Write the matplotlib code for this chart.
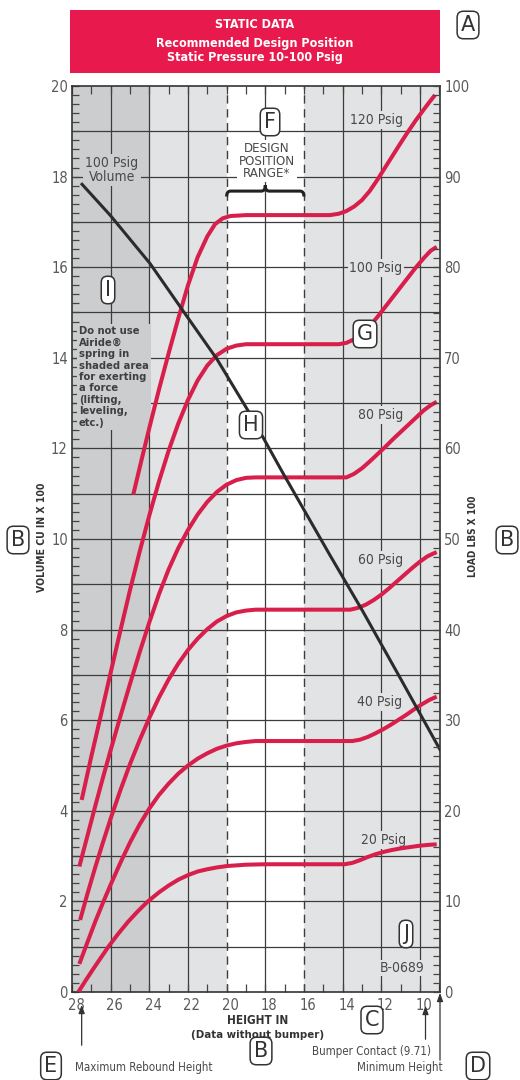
import matplotlib
matplotlib.use('Agg')
import matplotlib.pyplot as plt
from matplotlib.ticker import MultipleLocator, FixedLocator
from matplotlib.patches import Rectangle, PathPatch
from matplotlib.path import Path
from matplotlib.transforms import ScaledTranslation

# ---------------- data (height in, volume cu in x100 ; load lbs x100 = 5 x left scale) ----------------
x_120 = [24.83, 24.4, 24.0, 23.5, 23.0, 22.5, 22.0, 21.5, 21.0, 20.6, 20.2, 19.8, 19.0, 17.0, 15.0,
         14.65, 14.2, 13.8, 13.4, 13.0, 12.6, 12.2, 11.8, 11.4, 11.0, 10.6, 10.2, 9.8, 9.5, 9.22]
y_120 = [10.98, 11.75, 12.45, 13.3, 14.1, 14.87, 15.6, 16.22, 16.68, 16.95, 17.08, 17.13, 17.15, 17.15, 17.15,
         17.15, 17.18, 17.24, 17.34, 17.48, 17.68, 17.93, 18.2, 18.47, 18.74, 19.0, 19.25, 19.48, 19.65, 19.8]

x_100 = [27.5, 27.0, 26.5, 26.0, 25.5, 25.0, 24.5, 24.0, 23.5, 23.0, 22.5, 22.0, 21.5, 21.0, 20.5, 20.0,
         19.5, 19.0, 17.0, 15.0, 14.2, 13.8, 13.4, 13.0, 12.6, 12.2, 11.8, 11.4, 11.0, 10.6, 10.2, 9.8,
         9.45, 9.13]
y_100 = [4.24, 5.2, 6.12, 7.05, 7.97, 8.87, 9.72, 10.52, 11.27, 11.95, 12.55, 13.07, 13.5, 13.83, 14.06, 14.2,
         14.27, 14.3, 14.3, 14.3, 14.3, 14.33, 14.41, 14.53, 14.7, 14.9, 15.12, 15.34, 15.56, 15.78, 16.0, 16.2,
         16.36, 16.45]

x_80 = [27.62, 27.2, 26.8, 26.4, 26.0, 25.5, 25.0, 24.5, 24.0, 23.5, 23.0, 22.5, 22.0, 21.5, 21.0, 20.5,
        20.0, 19.5, 19.0, 18.5, 16.0, 13.8, 13.4, 13.0, 12.6, 12.2, 11.8, 11.4, 11.0, 10.6, 10.2, 9.8,
        9.45, 9.13]
y_80 = [2.77, 3.45, 4.1, 4.73, 5.34, 6.08, 6.8, 7.5, 8.16, 8.78, 9.33, 9.8, 10.2, 10.54, 10.82, 11.04,
        11.2, 11.3, 11.35, 11.36, 11.36, 11.36, 11.44, 11.56, 11.71, 11.87, 12.03, 12.2, 12.36, 12.52, 12.68, 12.84,
        12.95, 13.03]

x_60 = [27.58, 27.2, 26.8, 26.4, 26.0, 25.5, 25.0, 24.5, 24.0, 23.5, 23.0, 22.5, 22.0, 21.5, 21.0, 20.5,
        20.0, 19.5, 19.0, 18.5, 16.0, 13.6, 13.2, 12.8, 12.4, 12.0, 11.6, 11.2, 10.8, 10.4, 10.0, 9.6,
        9.3, 9.13]
y_60 = [1.59, 2.17, 2.75, 3.3, 3.83, 4.45, 5.03, 5.56, 6.05, 6.5, 6.9, 7.25, 7.55, 7.8, 8.01, 8.18,
        8.3, 8.38, 8.42, 8.44, 8.44, 8.44, 8.48, 8.55, 8.65, 8.77, 8.91, 9.06, 9.21, 9.36, 9.5, 9.62,
        9.68, 9.71]

x_40 = [27.62, 27.2, 26.8, 26.4, 26.0, 25.5, 25.0, 24.5, 24.0, 23.5, 23.0, 22.5, 22.0, 21.5, 21.0, 20.5,
        20.0, 19.5, 19.0, 18.5, 16.0, 13.5, 13.1, 12.7, 12.3, 11.9, 11.5, 11.1, 10.7, 10.3, 9.9, 9.5, 9.13]
y_40 = [0.62, 1.1, 1.55, 1.97, 2.37, 2.85, 3.3, 3.7, 4.05, 4.35, 4.6, 4.82, 5.0, 5.15, 5.27, 5.37,
        5.44, 5.49, 5.52, 5.54, 5.54, 5.54, 5.57, 5.63, 5.71, 5.8, 5.9, 6.01, 6.12, 6.24, 6.35, 6.45, 6.52]

x_20 = [27.67, 27.3, 26.9, 26.5, 26.1, 25.6, 25.1, 24.6, 24.1, 23.5, 23.0, 22.5, 22.0, 21.5, 21.0, 20.5,
        20.0, 19.0, 18.0, 16.0, 13.9, 13.5, 13.1, 12.7, 12.3, 11.9, 11.5, 11.0, 10.5, 10.0, 9.5, 9.13]
y_20 = [0.0, 0.25, 0.51, 0.76, 1.01, 1.29, 1.55, 1.78, 1.99, 2.2, 2.35, 2.48, 2.58, 2.66, 2.71, 2.75,
        2.78, 2.81, 2.82, 2.82, 2.82, 2.85, 2.91, 2.98, 3.04, 3.09, 3.13, 3.17, 3.2, 3.23, 3.25, 3.26]

vol_x = [27.48, 26.03, 23.96, 22.31, 20.5, 18.79, 17.08, 14.65, 12.95, 11.03, 8.96]
vol_y = [17.83, 17.15, 16.08, 15.07, 13.97, 12.76, 11.45, 9.64, 8.4, 6.94, 5.35]

curves = [("120 Psig", x_120, y_120), ("100 Psig", x_100, y_100), ("80 Psig", x_80, y_80),
          ("60 Psig", x_60, y_60), ("40 Psig", x_40, y_40), ("20 Psig", x_20, y_20)]

height_ticks = [28, 26, 24, 22, 20, 18, 16, 14, 12, 10]
volume_ticks = [0, 2, 4, 6, 8, 10, 12, 14, 16, 18, 20]
load_ticks = [0, 10, 20, 30, 40, 50, 60, 70, 80, 90, 100]
design_range = (20, 16)
shaded_dark = (28, 24)
bumper_contact = 9.71
max_rebound = 27.5
min_height = 8.96

# ---------------- styling ----------------
NARROW = ['DejaVu Sans']
RED = '#d81f4c'
HEAD = '#e8194c'
DARK = '#cbcdcf'
LIGHT = '#e2e3e4'
GRID = '#3c3c3c'
TXT = '#4a4a4a'

W, H = 520, 1080
fig = plt.figure(figsize=(W / 100, H / 100), dpi=100)
fig.patch.set_facecolor('white')


def fx(px):
    return px / W


def fy(py):
    return 1 - py / H


ax = fig.add_axes([fx(72), fy(992), fx(440) - fx(72), fy(86) - fy(992)])
ax.set_xlim(28, min_height)
ax.set_ylim(0, 20)
ax.set_facecolor(LIGHT)
ax.axvspan(shaded_dark[0], shaded_dark[1], color=DARK, lw=0, zorder=0)
ax.axvspan(design_range[0], design_range[1], color='white', lw=0, zorder=0)

for yv in range(1, 20):
    ax.axhline(yv, color=GRID, lw=0.9, zorder=1)
for xv in height_ticks[1:]:
    if xv in design_range:
        ax.axvline(xv, color=GRID, lw=1.0, ls=(0, (6, 4)), zorder=1)
    else:
        ax.axvline(xv, color=GRID, lw=0.9, zorder=1)

for name, xs, ys in curves:
    ax.plot(xs, ys, color=RED, lw=2.9, solid_capstyle='butt', solid_joinstyle='round', zorder=4)
ax.plot(vol_x, vol_y, color='#2b2b2b', lw=2.2, solid_joinstyle='round', zorder=5)

# ticks
for s in ax.spines.values():
    s.set_color('#333333')
    s.set_linewidth(1.2)
ax.xaxis.set_major_locator(FixedLocator(height_ticks))
ax.xaxis.set_minor_locator(MultipleLocator(1))
ax.yaxis.set_major_locator(FixedLocator(volume_ticks))
ax.yaxis.set_minor_locator(MultipleLocator(0.2))
ax.tick_params(axis='both', which='both', direction='in', color='#444444', width=0.9)
ax.tick_params(axis='x', which='both', length=6, top=True, labeltop=False, pad=4)
ax.tick_params(axis='y', which='both', length=5, pad=3)
ax.tick_params(axis='both', which='major', labelsize=10.5, labelcolor='#5a5a5a')
shift = ScaledTranslation(4 / 100, 0, fig.dpi_scale_trans)
for lab in ax.get_xticklabels():
    lab.set_family(NARROW)
    lab.set_fontstretch('condensed')
    lab.set_transform(lab.get_transform() + shift)
for lab in ax.get_yticklabels():
    lab.set_family(NARROW)
    lab.set_fontstretch('condensed')

ax2 = ax.twinx()
ax2.set_ylim(0, 100)
ax2.yaxis.set_major_locator(FixedLocator(load_ticks))
ax2.yaxis.set_minor_locator(MultipleLocator(1))
ax2.tick_params(axis='y', which='both', direction='in', length=5, color='#444444', width=0.9,
                labelsize=10.5, labelcolor='#5a5a5a', pad=3)
for lab in ax2.get_yticklabels():
    lab.set_family(NARROW)
    lab.set_fontstretch('condensed')
for s in ax2.spines.values():
    s.set_visible(False)


# ---------------- texts ----------------
def ptxt(px, py, s, **kw):
    base = dict(ha='center', va='center', color=TXT, fontsize=10, family=NARROW, fontstretch='condensed')
    base.update(kw)
    return fig.text(fx(px), fy(py), s, **base)


def atxt(px, py, s, **kw):
    base = dict(ha='center', va='center', color=TXT, fontsize=10, family=NARROW, fontstretch='condensed',
                transform=fig.transFigure, zorder=3)
    base.update(kw)
    return ax.text(fx(px), fy(py), s, **base)


atxt(112, 170, "100 Psig\nVolume", linespacing=0.95, bbox=dict(fc=DARK, ec='none', pad=1.5))
atxt(267, 161, "DESIGN\nPOSITION\nRANGE*", fontsize=9.5, linespacing=0.95,
     bbox=dict(fc='white', ec='none', pad=1.5), zorder=6)

label_pos = {"120 Psig": (376, 120), "100 Psig": (376, 268), "80 Psig": (381, 415),
             "60 Psig": (381, 560), "40 Psig": (380, 702), "20 Psig": (384, 840)}
for name, xs, ys in curves:
    px, py = label_pos[name]
    atxt(px, py, name, bbox=dict(fc=LIGHT, ec='none', pad=1.2))

atxt(79, 377, "Do not use\nAiride\u00ae\nspring in\nshaded area\nfor exerting\na force\n(lifting,\nleveling,\netc.)",
     ha='left', fontsize=8, fontweight='bold', color='#3f3f3f', linespacing=1.18,
     bbox=dict(fc=DARK, ec='none', pad=1.5))

atxt(402, 968, "B-0689", fontsize=10, bbox=dict(fc=LIGHT, ec='none', pad=1.0))

# brace over design range
by = 17.68
d0, d1 = design_range
mid = (d0 + d1) / 2
verts = [(d0, by - 0.12), (d0, by), (d0 - 0.2, by),
         (mid + 0.2, by), (mid, by), (mid, by + 0.13),
         (mid, by), (mid - 0.2, by),
         (d1 + 0.2, by), (d1, by), (d1, by - 0.12)]
codes = [Path.MOVETO, Path.CURVE3, Path.CURVE3,
         Path.LINETO, Path.CURVE3, Path.CURVE3,
         Path.CURVE3, Path.CURVE3,
         Path.LINETO, Path.CURVE3, Path.CURVE3]
ax.add_patch(PathPatch(Path(verts, codes), fc='none', ec='#222222', lw=2.2, zorder=6))

# ---------------- header ----------------
fig.patches.append(Rectangle((fx(70), fy(73)), fx(440) - fx(70), fy(10) - fy(73),
                             transform=fig.transFigure, fc=HEAD, ec='none'))
ptxt(255, 24, "STATIC DATA", color='white', fontweight='bold', fontsize=9)
ptxt(255, 44, "Recommended Design Position", color='white', fontweight='bold', fontsize=9)
ptxt(255, 58, "Static Pressure 10-100 Psig", color='white', fontweight='bold', fontsize=9)

# ---------------- axis titles ----------------
ptxt(42, 537, "VOLUME CU IN X 100", rotation=90, fontweight='bold', fontsize=7.5, color='#333333')
ptxt(473, 536, "LOAD LBS X 100", rotation=90, fontweight='bold', fontsize=7.2, color='#333333')
ptxt(258, 1020, "HEIGHT IN", fontweight='bold', fontsize=8.5, color='#333333')
ptxt(258, 1035, "(Data without bumper)", fontweight='bold', fontsize=8.2, color='#333333')

# bottom annotations with arrows
arrow_kw = dict(arrowstyle='-|>,head_length=0.5,head_width=0.18', color='#333333', lw=0.9)
for xv, ytop, ybot in [(max_rebound, 1002, 1048), (bumper_contact, 1003, 1042), (min_height, 990, 1063)]:
    ax.annotate('', xy=(xv, fy(ytop)), xytext=(xv, fy(ybot)),
                xycoords=('data', 'figure fraction'), textcoords=('data', 'figure fraction'),
                arrowprops=arrow_kw, annotation_clip=False)
ptxt(75, 1067, "Maximum Rebound Height", ha='left', fontsize=8.3)
ptxt(431, 1051, "Bumper Contact (9.71)", ha='right', fontsize=8.3)
ptxt(443, 1067, "Minimum Height", ha='right', fontsize=8.3)

# ---------------- boxed reference letters ----------------
letters = [("A", 468, 25), ("F", 270, 122), ("I", 108, 290), ("G", 365, 334), ("H", 251, 425),
           ("B", 18, 540), ("B", 507, 540), ("J", 406, 934), ("C", 372, 1020), ("B", 261, 1051),
           ("E", 51, 1066), ("D", 478, 1066)]
for ch, px, py in letters:
    ptxt(px, py, ch, fontsize=15, color='#333333', fontstretch='normal', zorder=8,
         bbox=dict(boxstyle='round,pad=0.18,rounding_size=0.3', fc='white', ec='#333333', lw=1.1))

fig.savefig('out.png', dpi=100, facecolor='white')
